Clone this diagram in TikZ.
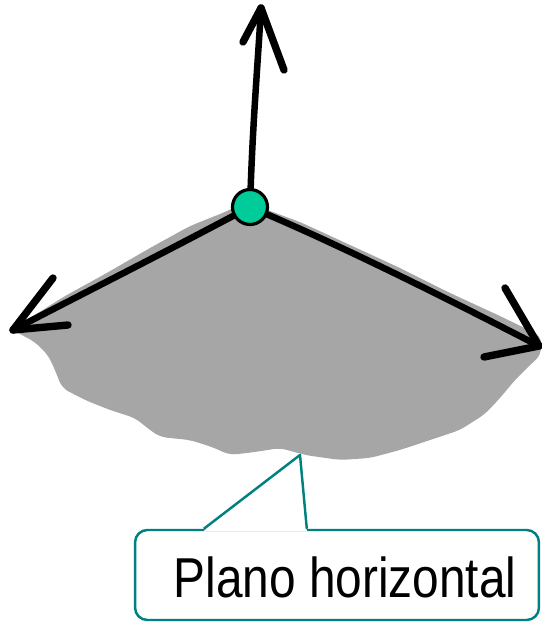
\documentclass[tikz,border=0pt]{standalone}
\usepackage{fontspec}
\newfontfamily\calloutfont[FakeStretch=0.85]{Liberation Sans}
\usetikzlibrary{calc}
\definecolor{planegray}{RGB}{166,166,166}
\definecolor{pointgreen}{RGB}{0,204,153}
\definecolor{calloutteal}{RGB}{0,128,128}

\begin{document}
\begin{tikzpicture}[x=0.02cm,y=-0.02cm,
  ink/.style={line width=3.7pt,line cap=round,line join=round},
  barb/.style={line width=4.2pt,line cap=round},
  callout/.style={draw=calloutteal,line width=1.4pt,line join=round}]
\useasboundingbox (0,0) rectangle (541,622);
\fill[planegray,rounded corners=4pt] (250,200) -- (262,208) -- (300,222) -- (350,245) -- (400,268) -- (450,293) -- (500,316) -- (541,336)
  -- (541,355) -- (530,365) -- (515,380) -- (500,398) -- (485,414) -- (460,430) -- (430,440) -- (400,450) -- (370,458) -- (340,460)
  -- (305,455) -- (280,448) -- (255,452) -- (230,455) -- (212,447) -- (190,440) -- (160,437) -- (150,430) -- (135,418) -- (110,410)
  -- (85,400) -- (62,388) -- (55,370) -- (48,355) -- (35,342) -- (22,335) -- (12,330)
  -- (30,318) -- (65,296) -- (105,274) -- (150,248) -- (190,226) -- (225,212) -- cycle;
\node[circle,draw=black,fill=pointgreen,line width=1.8pt,minimum size=0.7cm,inner sep=0pt] (pt) at (250,207) {};
\coordinate (up) at (261,8);
\coordinate (le) at (13,330);
\coordinate (ri) at (539,346);
\draw[ink] (pt) .. controls (253,120) and (258,60) .. (up);
\draw[ink] (pt) .. controls (150,260) and (80,295) .. (le);
\draw[ink] (pt) .. controls (350,250) and (450,300) .. (ri);
\draw[barb] (up) -- (243,42);
\draw[barb] (up) -- (284,70);
\draw[barb] (le) -- (53,278);
\draw[barb] (le) -- (68,325);
\draw[barb] (ri) -- (505,288);
\draw[barb] (ri) -- (484,357);
\node[callout,fill=white,rounded corners=7pt,minimum width=8.08cm,minimum height=1.8cm,inner sep=0pt] (lbl) at (337,575) {};
\node[inner sep=0pt,font=\calloutfont\fontsize{32}{38}\selectfont] (lbltext) at ($(lbl.center)+(8,2)$) {Plano horizontal};
\coordinate (ptip) at (300,455);
\fill[white] ($(lbl.north west)+(70,2)$) -- (ptip) -- ($(lbl.north west)+(173,2)$) -- cycle;
\draw[callout] ($(lbl.north west)+(70,0)$) -- (ptip) -- ($(lbl.north west)+(173,0)$);
\end{tikzpicture}
\end{document}
